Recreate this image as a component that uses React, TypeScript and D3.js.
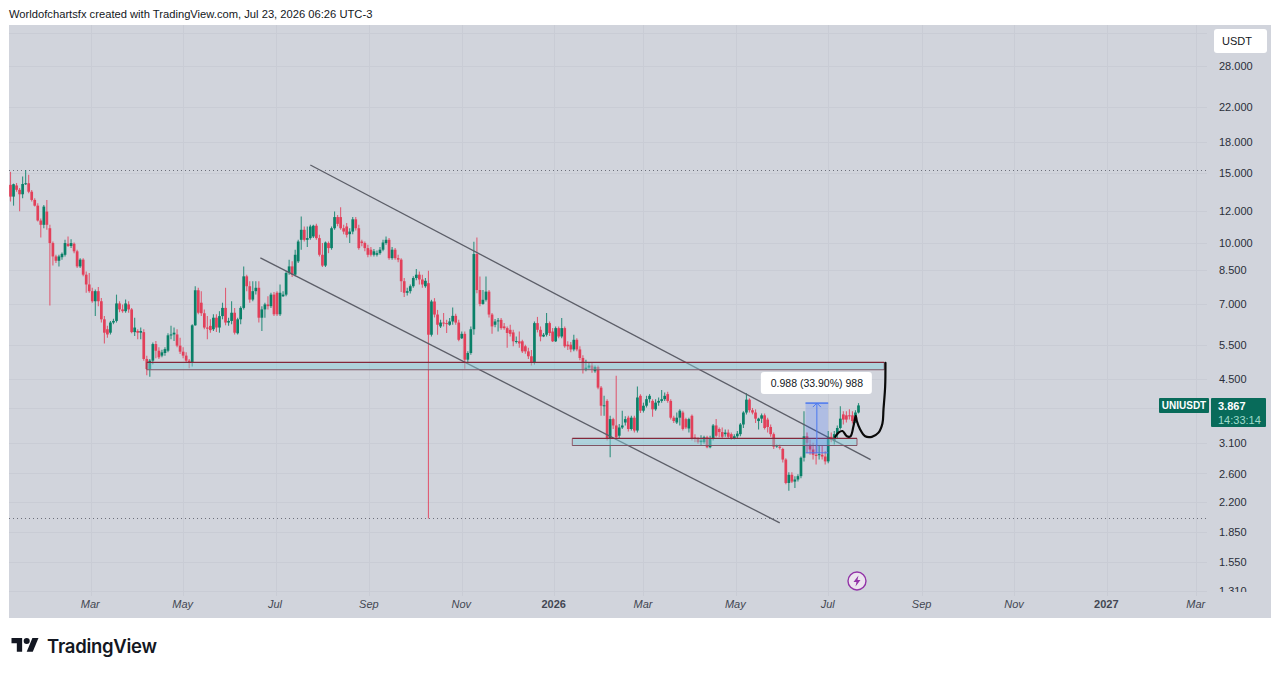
import React, { useEffect, useRef } from 'react';
import * as d3 from 'd3';

// 2-day UNIUSDT candles
const firstBar = '2025-01-07';
const barDays = 2;

const opens = [
  14.0,13.07,13.95,13.6,13.25,14.07,14.13,13.45,12.82,12.4,
  11.37,11.09,11.98,10.87,9.97,9.22,8.99,9.18,9.31,9.93,
  9.8,9.93,9.5,8.7,9.05,8.29,7.83,7.53,7.1,7.53,
  7.1,6.39,6.03,5.91,6.27,6.33,7.01,6.77,6.7,6.97,
  6.77,5.93,5.97,5.91,5.93,5.07,4.78,5.02,5.53,5.32,
  5.17,5.25,5.32,5.82,5.85,5.85,5.48,5.29,5.17,5.02,
  4.97,6.17,7.57,7.04,6.62,6.09,6.15,6.03,6.45,6.09,
  6.51,6.83,6.27,6.33,6.64,5.89,6.39,6.83,8.21,7.75,
  7.17,7.53,7.68,6.45,6.77,6.97,6.9,7.38,7.46,6.58,
  7.31,7.38,8.37,8.7,8.29,8.96,10.16,10.77,10.16,10.26,
  10.36,11.03,10.26,9.31,8.74,9.97,9.68,10.87,11.6,11.6,
  10.87,10.98,10.5,10.66,11.45,10.87,10.06,9.97,9.68,9.59,
  9.31,9.31,9.4,9.59,9.97,10.16,9.13,9.59,9.13,9.05,
  7.98,7.46,7.53,7.75,8.13,8.29,8.06,7.75,7.89,5.84,
  7.09,6.57,6.13,6.27,6.25,6.19,6.31,6.52,6.27,5.72,
  5.87,5.05,5.25,6.03,9.35,7.58,6.99,7.16,7.51,6.57,
  6.19,6.31,6.37,6.13,6.07,6.01,5.92,5.62,5.62,5.62,
  5.46,5.3,5.15,4.96,6.25,6.01,5.78,5.84,6.25,5.95,
  5.62,6.07,5.78,6.07,5.51,5.51,5.36,5.67,5.36,5.1,
  4.77,4.82,4.88,4.72,4.84,4.29,3.86,3.97,3.18,3.57,
  3.44,3.24,3.4,3.5,3.6,3.37,3.6,3.34,4.09,3.75,
  3.86,4.01,3.97,3.78,3.93,3.97,4.01,4.13,3.97,3.6,
  3.5,3.6,3.71,3.57,3.38,3.64,3.21,3.18,3.12,3.12,
  3.21,3.03,3.18,3.44,3.37,3.31,3.27,3.3,3.27,3.18,
  3.23,3.27,3.46,3.71,4.0,3.76,3.71,3.53,3.58,3.65,
  3.56,3.41,3.27,3.05,3.04,3.0,2.82,2.46,2.58,2.48,
  2.51,2.56,2.85,3.23,3.08,2.99,2.9,2.9,2.9,2.87,
  2.79,3.22,3.14,3.27,3.39,3.67,3.65,3.65,3.65,3.53,3.71,
];

const closes = [
  13.07,14.05,13.6,13.25,14.07,14.13,13.45,12.82,12.4,11.37,
  11.09,12.33,11.09,9.97,9.22,8.99,9.22,9.36,9.97,9.8,
  9.97,9.5,8.7,9.05,8.29,7.83,7.53,7.1,7.53,7.1,
  6.39,5.91,5.85,6.27,6.33,7.01,6.77,6.7,7.01,6.77,
  5.93,6.09,5.91,5.97,5.07,4.78,5.02,5.53,5.32,5.12,
  5.27,5.37,5.82,5.85,5.91,5.48,5.29,5.17,5.02,4.97,
  6.17,7.57,6.64,6.62,6.09,6.05,6.0,6.45,6.09,6.51,
  6.83,6.27,6.33,6.64,5.91,6.39,6.83,8.21,7.75,7.17,
  7.53,7.68,6.45,6.77,6.97,6.9,7.38,6.58,6.58,7.46,
  7.38,8.37,8.7,8.29,9.31,10.06,10.77,10.16,10.26,10.98,
  11.03,10.26,9.31,8.74,10.0,9.68,10.87,11.6,11.15,10.87,
  10.66,10.46,10.66,11.45,10.87,9.68,9.97,9.68,9.31,9.31,
  9.5,9.4,9.59,10.0,10.16,9.13,9.59,9.13,9.05,7.98,
  7.46,7.53,7.75,8.13,8.29,8.06,7.83,8.0,5.84,7.09,
  6.57,6.19,6.27,6.25,6.22,6.31,6.52,6.27,5.67,5.87,
  5.05,5.25,6.03,9.35,7.58,6.99,7.16,7.51,6.57,6.13,
  6.31,6.35,6.07,6.07,5.9,5.87,5.62,5.63,5.55,5.3,
  5.3,5.15,4.96,6.25,6.01,5.78,5.84,6.25,5.9,5.62,
  6.07,5.78,6.07,5.46,5.46,5.36,5.67,5.36,5.1,4.77,
  4.82,4.88,4.77,4.84,4.29,3.86,3.87,3.18,3.57,3.44,
  3.21,3.4,3.44,3.57,3.37,3.6,3.34,4.05,3.75,3.86,
  4.01,4.09,3.78,3.93,3.97,4.01,4.09,3.97,3.6,3.53,
  3.6,3.75,3.37,3.4,3.57,3.18,3.18,3.12,3.15,3.21,
  3.03,3.18,3.44,3.24,3.31,3.22,3.3,3.22,3.18,3.23,
  3.28,3.46,3.71,4.0,3.76,3.71,3.58,3.58,3.65,3.39,
  3.41,3.27,3.04,3.06,3.02,2.82,2.46,2.58,2.48,2.51,
  2.56,2.85,3.23,3.11,2.99,2.9,2.88,2.91,2.87,2.79,
  3.22,3.16,3.27,3.39,3.58,3.56,3.56,3.64,3.53,3.71,3.867,
];

const highs = [
  15.1,14.1,14.15,13.75,14.7,15.27,14.85,13.59,12.95,12.58,
  11.5,12.45,12.82,11.09,10.06,9.31,9.31,9.44,10.16,10.36,
  10.2,10.0,9.59,9.13,9.13,8.45,8.37,7.68,7.6,7.72,
  7.24,6.51,6.15,6.33,6.41,7.38,7.1,6.97,7.17,7.1,
  6.83,6.45,6.03,6.09,6.03,5.17,5.07,5.58,5.63,5.43,
  5.35,5.43,5.89,6.15,6.09,6.03,5.74,5.43,5.27,5.07,
  6.21,7.75,7.68,7.53,6.77,6.51,6.39,6.58,6.58,6.7,
  7.04,7.68,6.45,7.1,6.83,6.45,6.9,8.7,8.29,7.98,
  7.98,7.98,7.98,6.9,7.04,7.31,7.46,7.49,7.53,7.83,
  7.53,8.45,9.05,8.96,9.59,10.16,11.64,10.98,10.98,11.09,
  11.09,11.15,10.46,9.97,10.06,10.06,10.98,11.98,11.75,12.28,
  11.09,11.2,10.87,11.6,11.6,11.09,10.16,10.06,9.87,9.74,
  9.63,9.55,9.74,10.16,10.36,10.26,9.74,9.68,9.31,9.13,
  8.13,7.68,7.83,8.21,8.57,8.45,8.29,8.13,8.48,7.16,
  7.23,6.75,6.37,6.63,6.37,6.44,6.85,6.6,6.37,5.95,
  5.95,5.3,6.13,10.05,10.3,8.2,7.58,8.2,7.58,6.63,
  6.4,6.44,6.44,6.25,6.13,6.19,6.01,5.78,5.95,5.67,
  5.51,5.41,5.34,6.31,6.48,6.13,5.9,6.63,6.31,6.07,
  6.13,6.13,6.44,6.13,5.62,5.6,5.84,5.72,5.46,5.18,
  5.05,4.96,4.96,4.88,4.88,4.33,4.09,4.01,3.64,3.6,
  4.6,3.47,3.75,3.63,3.64,3.64,3.64,4.32,4.13,3.93,
  4.09,4.13,4.01,4.01,4.05,4.23,4.17,4.19,4.01,3.64,
  3.71,3.78,3.75,3.6,3.6,3.67,3.27,3.21,3.25,3.24,
  3.24,3.24,3.47,3.57,3.4,3.4,3.36,3.36,3.3,3.27,
  3.33,3.49,3.74,4.15,4.03,3.81,3.78,3.6,3.69,3.69,
  3.6,3.46,3.3,3.08,3.08,3.02,2.84,2.62,2.62,2.56,
  2.59,2.87,3.74,3.3,3.17,3.11,3.08,3.05,3.05,2.96,
  3.33,3.3,3.33,3.44,3.85,3.74,3.74,3.78,3.74,3.76,3.92,
];

const lows = [
  12.7,12.4,13.45,12.0,12.95,13.98,13.33,12.7,12.33,11.3,
  10.3,10.87,10.77,6.93,8.74,8.87,8.7,9.05,9.22,9.74,
  9.68,9.4,8.62,8.62,8.21,7.46,7.46,7.04,6.51,6.9,
  6.27,5.55,5.74,5.85,6.21,6.27,6.66,6.64,6.64,6.64,
  5.89,5.8,5.69,5.69,5.02,4.61,4.57,4.92,5.09,5.07,
  5.12,5.17,5.27,5.69,5.63,5.43,5.22,5.09,4.95,4.8,
  4.85,6.15,6.58,6.51,6.03,5.69,5.91,5.97,5.93,5.91,
  6.39,6.17,6.15,6.21,5.85,5.85,6.21,6.77,7.53,7.04,
  7.1,7.38,6.27,5.97,6.45,6.77,6.83,6.51,6.51,6.51,
  7.28,7.31,8.29,8.18,8.21,8.87,9.59,10.06,9.74,10.16,
  10.26,10.16,9.22,8.67,8.67,9.4,9.59,10.77,11.0,10.77,
  10.5,10.3,9.97,10.5,10.73,9.59,9.78,9.5,9.18,9.22,
  9.22,9.22,9.31,9.5,9.87,9.05,9.05,9.05,8.91,7.49,
  7.28,7.34,7.43,7.68,8.03,7.83,7.68,7.68,2.0,5.78,
  6.46,5.84,6.07,6.13,5.9,6.15,6.19,6.19,5.62,5.7,
  4.79,4.96,5.2,5.84,7.44,6.9,6.96,7.09,6.46,5.87,
  6.1,5.95,6.01,6.01,5.41,5.78,5.46,5.55,5.41,5.25,
  5.23,5.07,4.88,4.91,5.92,5.62,5.76,5.78,5.8,5.6,
  5.6,5.72,5.72,5.41,5.34,5.27,5.3,5.3,5.03,4.66,
  4.72,4.77,4.68,4.68,4.25,3.64,3.64,3.15,2.86,3.37,
  3.18,3.2,3.37,3.44,3.32,3.34,3.3,3.3,3.7,3.71,
  3.82,3.93,3.62,3.75,3.86,3.93,3.97,3.93,3.56,3.49,
  3.47,3.44,3.34,3.37,3.3,3.15,3.12,3.09,3.05,3.09,
  3.01,3.01,3.15,3.21,3.21,3.18,3.22,3.18,3.16,3.17,
  3.2,3.23,3.39,3.67,3.71,3.67,3.49,3.36,3.49,3.36,
  3.3,3.22,3.0,3.02,2.99,2.77,2.44,2.35,2.46,2.39,
  2.48,2.53,2.79,2.93,2.9,2.82,2.74,2.82,2.82,2.74,
  2.76,3.12,3.08,3.2,3.36,3.46,3.5,3.56,3.48,3.49,3.69,
];

const priceTicks = [28, 22, 18, 15, 12, 10, 8.5, 7, 5.5, 4.5, 3.1, 2.6, 2.2, 1.85, 1.55, 1.31];
const hiddenGridPrices = [34, 3.8]; // labels sit under the USDT button and the price tag
const monthTicks = ['2025-03-01', '2025-05-01', '2025-07-01', '2025-09-01', '2025-11-01', '2026-01-01', '2026-03-01', '2026-05-01', '2026-07-01', '2026-09-01', '2026-11-01', '2027-01-01', '2027-03-01'];
const dottedPrices = [15.24, 2.0];

// drawings on the chart
const channelLines = [
  [['2025-07-24', 15.72], ['2026-07-29', 2.82]],
  [['2025-06-21', 9.14], ['2026-05-30', 1.95]],
];
const zones = [
  { from: '2025-04-07', to: '2026-08-07', top: 4.97, bottom: 4.76 },
  { from: '2026-01-13', to: '2026-07-20', top: 3.19, bottom: 3.06 },
];
const rangeFrom = '2026-06-16';
const rangeTo = '2026-07-01';
const rangeTop = 3.92;
const rangeBottom = 2.932;
const rangeLabel = '0.988 (33.90%) 988';
// hand drawn path: days after the first bar, price
const brushDays = [544.6, 546.8, 549.4, 552.3, 554.7, 556.7, 558.2, 558.9, 561.1, 564.4, 568.8, 573.2, 575.8, 576.5, 577.6, 577.8];
const brushPrices = [3.22, 3.3, 3.33, 3.23, 3.23, 3.43, 3.64, 3.53, 3.36, 3.23, 3.22, 3.3, 3.48, 3.78, 4.32, 4.96];

const lastPrice = '3.867';
const countdown = '14:33:14';
const symbol = 'UNIUSDT';
const currency = 'USDT';
const header = 'Worldofchartsfx created with TradingView.com, Jul 23, 2026 06:26 UTC-3';

const UP = '#0a8068';
const DOWN = '#e2405a';
const AXIS_FONT = '"Liberation Sans", Arial, sans-serif';

const parseDay = (s: string) => new Date(s + 'T00:00:00Z');
const dayMs = 86400000;

const App: React.FC = () => {
  const ref = useRef<SVGSVGElement>(null);

  useEffect(() => {
    const svg = d3.select(ref.current);
    svg.selectAll('*').remove();

    const start = parseDay(firstBar).getTime();
    const barDate = (i: number) => new Date(start + i * barDays * dayMs);
    const x = d3.scaleUtc()
      .domain([barDate(0), barDate(opens.length - 1)])
      .range([10.5, 858.5]);
    const y = d3.scaleLog().domain([28, 1.31]).range([66, 591]);

    const plotRight = 1207;
    const plotBottom = 596;

    svg.append('rect').attr('width', 1280).attr('height', 674).attr('fill', '#ffffff');
    svg.append('rect').attr('x', 9).attr('y', 25).attr('width', 1262).attr('height', 593).attr('fill', '#d1d4dc');

    const defs = svg.append('defs');
    defs.append('clipPath').attr('id', 'plot-clip').append('rect')
      .attr('x', 9).attr('y', 25).attr('width', plotRight - 9).attr('height', plotBottom - 25);
    defs.append('clipPath').attr('id', 'axis-clip').append('rect')
      .attr('x', plotRight).attr('y', 25).attr('width', 70).attr('height', 567);

    // grid
    const grid = svg.append('g').attr('stroke', '#c9ccd5').attr('stroke-width', 1);
    grid.selectAll('.hgrid')
      .data([...priceTicks, ...hiddenGridPrices])
      .enter().append('line')
      .attr('x1', 9).attr('x2', plotRight)
      .attr('y1', d => Math.round(y(d)) + 0.5).attr('y2', d => Math.round(y(d)) + 0.5);
    grid.selectAll('.vgrid')
      .data(monthTicks)
      .enter().append('line')
      .attr('y1', 25).attr('y2', plotBottom)
      .attr('x1', d => Math.round(x(parseDay(d))) + 0.5).attr('x2', d => Math.round(x(parseDay(d))) + 0.5);

    // dotted levels
    svg.selectAll('.level')
      .data(dottedPrices)
      .enter().append('line')
      .attr('x1', 9).attr('x2', plotRight)
      .attr('y1', d => Math.round(y(d)) + 0.5).attr('y2', d => Math.round(y(d)) + 0.5)
      .attr('stroke', '#6c6f7a').attr('stroke-width', 1).attr('stroke-dasharray', '1 3');

    // candles
    const chart = svg.append('g').attr('clip-path', 'url(#plot-clip)');
    const bars = d3.range(opens.length);
    const barColor = (i: number) => (closes[i] >= opens[i] ? UP : DOWN);
    chart.selectAll('.wick')
      .data(bars)
      .enter().append('line')
      .attr('x1', i => x(barDate(i))).attr('x2', i => x(barDate(i)))
      .attr('y1', i => y(highs[i])).attr('y2', i => y(lows[i]))
      .attr('stroke', barColor).attr('stroke-width', 1.1).attr('stroke-opacity', 0.8);
    chart.selectAll('.body')
      .data(bars)
      .enter().append('rect')
      .attr('x', i => x(barDate(i)) - 1.35).attr('width', 2.7)
      .attr('y', i => Math.min(y(opens[i]), y(closes[i])))
      .attr('height', i => Math.max(1, Math.abs(y(opens[i]) - y(closes[i]))))
      .attr('fill', barColor);

    // channel
    const channel = d3.line<[string, number]>().x(d => x(parseDay(d[0]))).y(d => y(d[1]));
    svg.selectAll('.channel')
      .data(channelLines as [string, number][][])
      .enter().append('path')
      .attr('d', d => channel(d))
      .attr('fill', 'none').attr('stroke', '#5c5e68').attr('stroke-width', 1.3);

    // support and resistance zones
    zones.forEach(z => {
      const zx = x(parseDay(z.from));
      const zr = x(parseDay(z.to));
      const zt = y(z.top);
      const zb = y(z.bottom);
      svg.append('rect')
        .attr('x', zx).attr('y', zt).attr('width', zr - zx).attr('height', zb - zt)
        .attr('fill', '#85d0dc').attr('fill-opacity', 0.45);
      svg.append('line').attr('x1', zx).attr('x2', zr).attr('y1', zt).attr('y2', zt)
        .attr('stroke', '#84283b').attr('stroke-width', 1.1);
      svg.append('line').attr('x1', zx).attr('x2', zr).attr('y1', zb).attr('y2', zb)
        .attr('stroke', '#7f5564').attr('stroke-width', 1.1);
      svg.selectAll(null).data([zx, zr]).enter().append('line')
        .attr('x1', d => d).attr('x2', d => d).attr('y1', zt).attr('y2', zb)
        .attr('stroke', '#84283b').attr('stroke-opacity', 0.7);
    });

    // measured range
    const rx = x(parseDay(rangeFrom));
    const rw = x(parseDay(rangeTo)) - rx;
    const rMid = rx + rw / 2;
    svg.append('rect')
      .attr('x', rx).attr('y', y(rangeTop)).attr('width', rw).attr('height', y(rangeBottom) - y(rangeTop))
      .attr('fill', '#2962ff').attr('fill-opacity', 0.2);
    const rangeStroke = svg.append('g').attr('stroke', '#4a78f0').attr('fill', 'none').attr('stroke-width', 1);
    rangeStroke.append('line').attr('x1', rx).attr('x2', rx + rw).attr('y1', y(rangeTop)).attr('y2', y(rangeTop)).attr('stroke-width', 1.5);
    rangeStroke.append('line').attr('x1', rx).attr('x2', rx + rw).attr('y1', y(rangeBottom)).attr('y2', y(rangeBottom));
    rangeStroke.append('line').attr('x1', rMid).attr('x2', rMid).attr('y1', y(rangeBottom)).attr('y2', y(rangeTop));
    rangeStroke.append('path').attr('d', `M${rMid - 4},${y(rangeTop) + 4}L${rMid},${y(rangeTop)}L${rMid + 4},${y(rangeTop) + 4}`);

    svg.append('rect')
      .attr('x', rMid - 56).attr('y', 372).attr('width', 111).attr('height', 22).attr('rx', 3)
      .attr('fill', '#ffffff');
    svg.append('text')
      .attr('x', rMid).attr('y', 383).attr('dy', '0.35em').attr('text-anchor', 'middle')
      .attr('font-family', AXIS_FONT).attr('font-size', 10.5).attr('fill', '#131722')
      .text(rangeLabel);

    // brush
    const brush = d3.line<number>()
      .x((d, i) => x(new Date(start + d * dayMs)))
      .y((d, i) => y(brushPrices[i]))
      .curve(d3.curveCatmullRom);
    svg.append('path')
      .attr('d', brush(brushDays))
      .attr('fill', 'none').attr('stroke', '#0a0a0a').attr('stroke-width', 2.2).attr('stroke-linecap', 'round');

    // lightning badge
    const badgeX = x(parseDay('2026-07-20'));
    const badge = svg.append('g').attr('transform', `translate(${badgeX},581)`);
    badge.append('circle').attr('r', 9).attr('fill', '#ece4ef').attr('stroke', '#9334a8').attr('stroke-width', 1.4);
    badge.append('path').attr('d', 'M1.5,-5.5L-3.5,1H-0.5L-1.5,5.5L3.5,-1H0.5Z').attr('fill', '#9334a8');

    // axes
    const priceAxis = d3.axisRight(y)
      .tickValues(priceTicks)
      .tickFormat(d => d3.format('.3f')(+d))
      .tickSize(0).tickPadding(12);
    const yg = svg.append('g').attr('clip-path', 'url(#axis-clip)')
      .append('g').attr('transform', `translate(${plotRight},0)`).call(priceAxis);
    yg.select('.domain').remove();
    yg.selectAll('text').attr('font-family', AXIS_FONT).attr('font-size', 11).attr('fill', '#2a2e39');

    const isYear = (d: Date) => d.getUTCMonth() === 0;
    const timeAxis = d3.axisBottom(x)
      .tickValues(monthTicks.map(parseDay))
      .tickFormat(d => (isYear(d as Date) ? d3.utcFormat('%Y')(d as Date) : d3.utcFormat('%b')(d as Date)))
      .tickSize(0).tickPadding(4);
    const xg = svg.append('g').attr('transform', `translate(-1,${plotBottom})`).call(timeAxis);
    xg.select('.domain').remove();
    xg.selectAll('text')
      .attr('font-family', AXIS_FONT).attr('font-size', 11).attr('fill', '#434752')
      .attr('font-style', (d: any) => (isYear(d) ? 'normal' : 'italic'))
      .attr('font-weight', (d: any) => (isYear(d) ? 700 : 400));

    // USDT button
    svg.append('rect').attr('x', 1214).attr('y', 29).attr('width', 53).attr('height', 24).attr('rx', 3).attr('fill', '#ffffff');
    svg.append('text').attr('x', 1222).attr('y', 41).attr('dy', '0.35em')
      .attr('font-family', AXIS_FONT).attr('font-size', 11).attr('fill', '#131722').text(currency);

    // last price tag
    const tagColor = '#086b5a';
    svg.append('rect').attr('x', 1159).attr('y', 398).attr('width', 50).attr('height', 15).attr('rx', 1).attr('fill', tagColor);
    svg.append('text').attr('x', 1184).attr('y', 405.5).attr('dy', '0.35em').attr('text-anchor', 'middle')
      .attr('font-family', AXIS_FONT).attr('font-size', 10).attr('font-weight', 700).attr('fill', '#ffffff').text(symbol);
    svg.append('rect').attr('x', 1211).attr('y', 398).attr('width', 55).attr('height', 29).attr('rx', 1).attr('fill', tagColor);
    svg.append('text').attr('x', 1218).attr('y', 406).attr('dy', '0.35em')
      .attr('font-family', AXIS_FONT).attr('font-size', 11).attr('font-weight', 700).attr('fill', '#ffffff').text(lastPrice);
    svg.append('text').attr('x', 1218).attr('y', 420).attr('dy', '0.35em')
      .attr('font-family', AXIS_FONT).attr('font-size', 11).attr('fill', '#9fdccb').text(countdown);

    // header and logo
    svg.append('text').attr('x', 9).attr('y', 18)
      .attr('font-family', AXIS_FONT).attr('font-size', 11.2).attr('fill', '#131722').text(header);
    svg.append('g').attr('transform', 'translate(11.5,635) scale(0.76)').attr('fill', '#131722')
      .selectAll('path').data(['M14 22H7V11H0V4h14v18z', 'M28 22h-8l7.5-18h8L28 22z'])
      .enter().append('path').attr('d', d => d);
    svg.append('circle').attr('cx', 11.5 + 20 * 0.76).attr('cy', 635 + 8 * 0.76).attr('r', 4 * 0.76).attr('fill', '#131722');
    svg.append('text').attr('x', 47).attr('y', 653)
      .attr('font-family', 'Inter, sans-serif').attr('font-size', 18.5).attr('font-weight', 600)
      .attr('textLength', 110).attr('fill', '#131722').text('TradingView');
  }, []);

  return <svg ref={ref} width={1280} height={674} style={{ position: 'absolute', left: 0, top: 0, display: 'block' }} />;
};

export default App;
